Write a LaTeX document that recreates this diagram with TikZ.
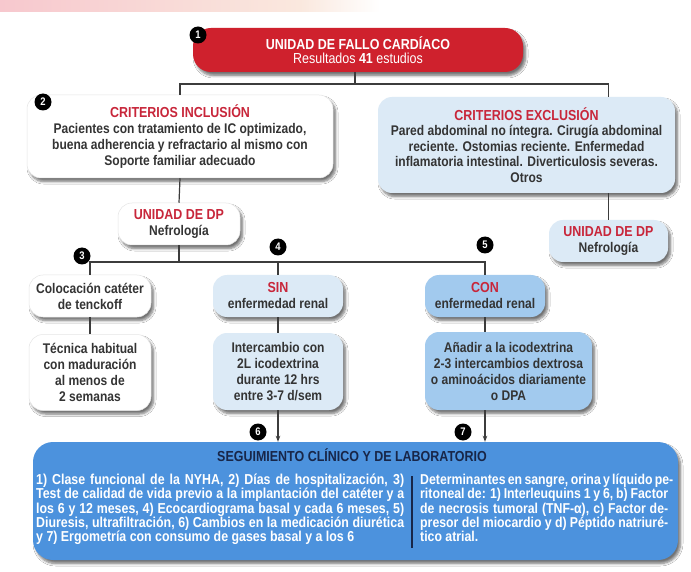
\documentclass[tikz,border=0pt]{standalone}
\usepackage{fontspec}
\setmainfont{Liberation Sans}[FakeStretch=0.86]
\usetikzlibrary{shadows,shadows.blur,arrows.meta,calc}
\definecolor{boxred}{RGB}{207,33,45}
\definecolor{titlered}{RGB}{200,38,58}
\definecolor{bodygray}{RGB}{52,52,52}
\definecolor{lightblue}{RGB}{220,234,246}
\definecolor{midblue}{RGB}{162,202,238}
\definecolor{deepblue}{RGB}{76,146,221}
\definecolor{navy}{RGB}{24,38,72}
\definecolor{pinkband}{RGB}{247,200,206}
\definecolor{peach}{RGB}{250,232,222}
\definecolor{linegray}{RGB}{60,60,60}
\newcommand\ttl[1]{{\fontsize{14.5}{16}\selectfont\color{titlered}#1}}
\newcommand\jl[1]{\makebox[368pt][s]{#1}}
\newcommand\jr[1]{\makebox[248pt][s]{#1}}
\begin{document}
\begin{tikzpicture}[x=1pt,y=-1pt,
  box/.style={rounded corners=14pt, align=center, inner sep=2pt,
    blur shadow={shadow xshift=2.5pt,shadow yshift=-3.5pt,shadow opacity=55,shadow blur radius=2.5pt,shadow blur steps=6},
    font=\fontsize{14}{16}\selectfont\bfseries, text=bodygray},
  whitebox/.style={box, fill=white, draw=black!10, line width=.5pt},
  lbluebox/.style={box, fill=lightblue},
  mbluebox/.style={box, fill=midblue},
  num/.style={circle, fill=black, text=white, inner sep=0pt, minimum size=17pt,
    font=\fontsize{11}{11}\selectfont\bfseries},
  conn/.style={draw=linegray, line width=1.2pt},
  arr/.style={conn, -{Stealth[length=6pt,width=4.5pt]}}]
\useasboundingbox (0,0) rectangle (691,572);
\fill[white] (0,0) rectangle (691,572);
\shade[left color=pinkband, right color=peach] (0,0) rectangle (300,12);
\shade[left color=peach, right color=white] (300,0) rectangle (380,12);

% top red box
\node[box, fill=boxred, text=white, rounded corners=18pt, minimum width=330pt, minimum height=44pt,
  font=\fontsize{14.5}{14}\selectfont\bfseries] (red) at (358,50)
  {UNIDAD DE FALLO CARDÍACO\\{\fontsize{14.5}{14}\selectfont\mdseries Resultados \textbf{41} estudios}};

% inclusion / exclusion
\node[whitebox, minimum width=306pt, minimum height=83pt] (incl) at (180,136.5)
  {\ttl{CRITERIOS INCLUSIÓN}\\Pacientes con tratamiento de IC optimizado,\\buena adherencia y refractario al mismo con\\Soporte familiar adecuado};
\node[lbluebox, minimum width=297pt, minimum height=96pt, font=\fontsize{14}{15.5}\selectfont\bfseries] (excl) at (526.5,145)
  {\ttl{CRITERIOS EXCLUSIÓN}\\Pared abdominal no íntegra. Cirugía abdominal\\reciente. Ostomias reciente. Enfermedad\\inflamatoria intestinal. Diverticulosis severas.\\Otros};

% unidad de DP
\node[whitebox, minimum width=122pt, minimum height=42pt] (ldp) at (179,224)
  {\ttl{UNIDAD DE DP}\\Nefrología};
\node[lbluebox, minimum width=119pt, minimum height=42pt] (rdp) at (608.5,241)
  {\ttl{UNIDAD DE DP}\\Nefrología};

% third row
\node[whitebox, minimum width=122pt, minimum height=42pt] (coloc) at (90,296)
  {Colocación catéter\\de tenckoff};
\node[whitebox, minimum width=122pt, minimum height=76pt] (tec) at (90,372.5)
  {Técnica habitual\\con maduración\\al menos de\\2 semanas};
\node[lbluebox, minimum width=130pt, minimum height=42pt] (sin) at (278,296)
  {\ttl{SIN}\\enfermedad renal};
\node[lbluebox, minimum width=130pt, minimum height=77pt] (inter) at (278,371.5)
  {Intercambio con\\2L icodextrina\\durante 12 hrs\\entre 3-7 d/sem};
\node[mbluebox, minimum width=120pt, minimum height=42pt] (con) at (485,296)
  {\ttl{CON}\\enfermedad renal};
\node[mbluebox, minimum width=167pt, minimum height=78pt] (anad) at (508.5,371)
  {Añadir a la icodextrina\\2-3 intercambios dextrosa\\o aminoácidos diariamente\\o DPA};

% bottom box
\node[box, fill=deepblue, rounded corners=20pt, minimum width=645pt, minimum height=118pt] (seg) at (355.5,501) {};
\node[font=\fontsize{14.5}{15}\selectfont\bfseries, text=navy, inner sep=0pt] (segt) at (352,455)
  {SEGUIMIENTO CLÍNICO Y DE LABORATORIO};
\node[anchor=north west, align=left, inner sep=0pt, text=white,
  font=\fontsize{14.4}{14.2}\selectfont\bfseries] (segl) at (36,474)
  {\jl{1) Clase funcional de la NYHA, 2) Días de hospitalización, 3)}\\
   \jl{Test de calidad de vida previo a la implantación del catéter y a}\\
   \jl{los 6 y 12 meses, 4) Ecocardiograma basal y cada 6 meses, 5)}\\
   \jl{Diuresis, ultrafiltración, 6) Cambios en la medicación diurética}\\
   y 7) Ergometría con consumo de gases basal y a los 6};
\node[anchor=north west, align=left, inner sep=0pt, text=white,
  font=\fontsize{14.3}{14.2}\selectfont\bfseries] (segr) at (420,474)
  {\jr{Determinantes en sangre, orina y líquido pe-}\\
   \jr{ritoneal de: 1) Interleuquins 1 y 6, b) Factor}\\
   \jr{de necrosis tumoral (TNF-α), c) Factor de-}\\
   \jr{presor del miocardio y d) Péptido natriuré-}\\
   tico atrial.};
\coordinate (dv1) at (412,476);
\coordinate (dv2) at (412,548);
\draw[navy, line width=1.2pt] (dv1) -- (dv2);

% connectors
\coordinate (j1) at (355,84);
\draw[conn] (red.south -| j1) -- (j1);
\draw[conn] (incl.north) |- (j1) -| (rdp.north |- excl.north);
\draw[conn] (rdp.north |- excl.south) -- (rdp.north);
\draw[conn] (incl.south) -- (ldp.north);
\coordinate (j2) at (179,262);
\draw[conn] (ldp.south) -- (j2);
\draw[conn] (coloc.north) |- (j2) -| (con.north);
\draw[conn] (sin.north) -- (sin.north |- j2);
\draw[conn] (coloc.south) -- (tec.north);
\draw[conn] (sin.south) -- (inter.north);
\draw[conn] (con.south) -- (con.south |- anad.north);
\draw[arr] (inter.south) -- (inter.south |- seg.north);
\draw[arr] (con.south |- anad.south) -- (con.south |- seg.north);

% number badges
\node[num] (n1) at (198,35) {1};
\node[num] (n2) at (43,102) {2};
\node[num] (n3) at (82,256) {3};
\node[num] (n4) at (278,247) {4};
\node[num] (n5) at (485,245) {5};
\node[num] (n6) at (258,432) {6};
\node[num] (n7) at (463,432) {7};
\end{tikzpicture}
\end{document}
